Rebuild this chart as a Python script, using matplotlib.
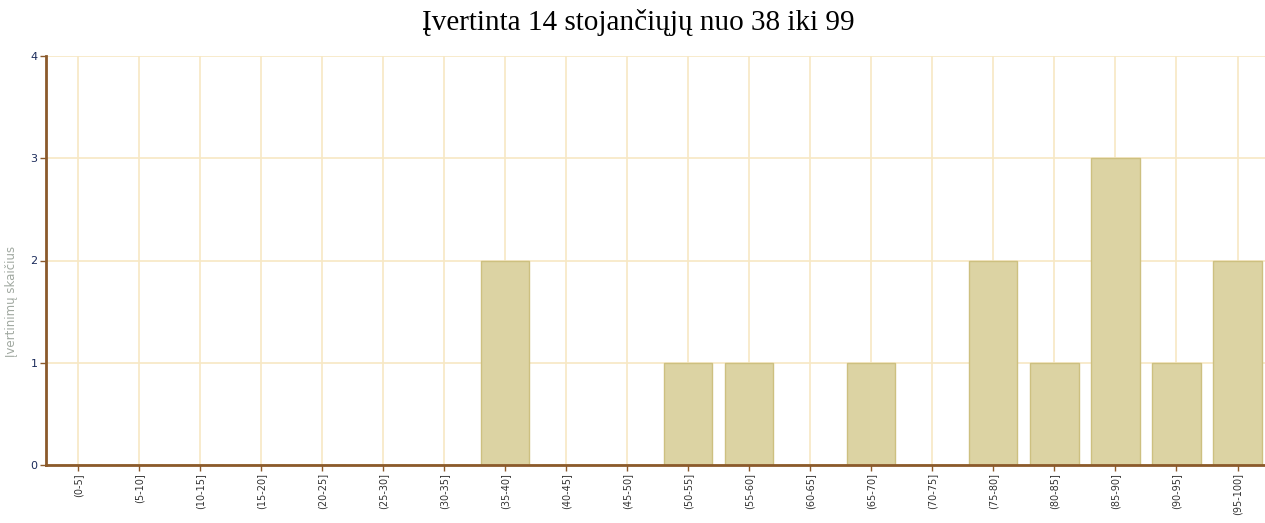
import matplotlib.pyplot as plt
import numpy as np

intervalai = ['(0-5]', '(5-10]', '(10-15]', '(15-20]', '(20-25]', '(25-30]', '(30-35]',
              '(35-40]', '(40-45]', '(45-50]', '(50-55]', '(55-60]', '(60-65]', '(65-70]',
              '(70-75]', '(75-80]', '(80-85]', '(85-90]', '(90-95]', '(95-100]']
kiekiai = [0, 0, 0, 0, 0, 0, 0, 2, 0, 0, 1, 1, 0, 1, 0, 2, 1, 3, 1, 2]

fig = plt.figure(figsize=(12.65, 5.23), dpi=100)
ax = fig.add_axes([46 / 1265, 1 - 465 / 523, 1219 / 1265, 409 / 523])

x = np.arange(len(intervalai))
ax.bar(x, kiekiai, width=0.79, color='#dcd3a3', edgecolor='#cdc080', linewidth=1, zorder=2)

ax.set_xlim(-0.52, 19.45)
ax.set_ylim(0, 4)
ax.set_xticks(x)
ax.set_xticklabels(intervalai, rotation=90, fontsize=7, color='#333333')
ax.set_yticks([0, 1, 2, 3, 4])
ax.set_yticklabels(['0', '1', '2', '3', '4'], fontsize=8, color='#1a2a5a')
ax.tick_params(axis='both', length=4, width=1, color='#8b5a2b', pad=2)

ax.grid(True, color='#f7e8c4', linewidth=1.2, zorder=0)
ax.set_axisbelow(True)
for s in ['top', 'right']:
    ax.spines[s].set_visible(False)
ax.spines['left'].set_color('#8b5a2b')
ax.spines['left'].set_linewidth(2)
ax.spines['bottom'].set_color('#8b5a2b')
ax.spines['bottom'].set_linewidth(2)

ax.set_ylabel('Įvertinimų skaičius', fontsize=8.5, color='#a0a8a0')
ax.yaxis.set_label_coords(-0.023, 0.40)
fig.text(638 / 1265, 1 - 22 / 523, 'Įvertinta 14 stojančiųjų nuo 38 iki 99', ha='center', va='center',
         fontsize=21, family='Liberation Serif')

fig.savefig('out.png', dpi=100)
